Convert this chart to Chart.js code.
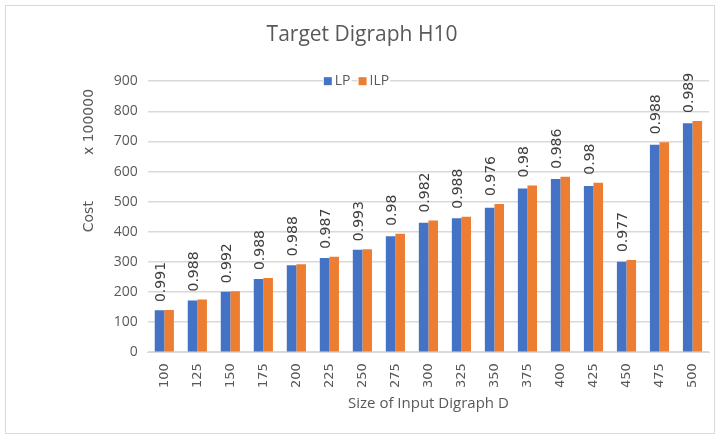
<!DOCTYPE html>
<html>
<head>
<meta charset="utf-8">
<script src="https://cdn.jsdelivr.net/npm/chart.js@4/dist/chart.umd.min.js"></script>
<style>
  body { margin: 0; background: #fff; }
  #wrap { position: relative; width: 721px; height: 441px; }
  #frame { position: absolute; left: 5px; top: 5px; width: 710px; height: 429px; border: 1px solid #d9d9d9; box-sizing: border-box; }
  canvas { position: absolute; left: 0; top: 0; }
</style>
</head>
<body>
<div id="wrap">
  <div id="frame"></div>
  <canvas id="myChart" width="721" height="441"></canvas>
</div>
<script>
// Data
const sizes = ['100', '125', '150', '175', '200', '225', '250', '275', '300',
               '325', '350', '375', '400', '425', '450', '475', '500'];
const lpCost = [139, 172, 201, 243, 289, 313, 340, 385, 430, 445, 480, 544, 575, 552, 300, 689, 760];
const ilpCost = [140, 175, 202, 246, 292, 317, 342, 393, 437, 450, 492, 554, 583, 563, 306, 697, 768];
const ratios = ['0.991', '0.988', '0.992', '0.988', '0.988', '0.987', '0.993', '0.98', '0.982',
                '0.988', '0.976', '0.98', '0.986', '0.98', '0.977', '0.988', '0.989'];
const yTicks = [0, 100, 200, 300, 400, 500, 600, 700, 800, 900];

// Rotated ratio labels, the "x 100000" unit label and a legend sitting on the top gridline
const extras = {
  id: 'extras',
  afterDatasetsDraw(chart) {
    const ctx = chart.ctx;
    const m0 = chart.getDatasetMeta(0).data;
    const m1 = chart.getDatasetMeta(1).data;
    ctx.save();
    ctx.font = '14px "DejaVu Sans"';
    ctx.fillStyle = '#404040';
    ctx.textAlign = 'left';
    ctx.textBaseline = 'middle';
    ratios.forEach((r, i) => {
      const x = (m0[i].x + m1[i].x) / 2 - 3;
      const y = Math.min(m0[i].y, m1[i].y) - 8;
      ctx.save();
      ctx.translate(x, y);
      ctx.rotate(-Math.PI / 2);
      ctx.fillText(r, 0, 0);
      ctx.restore();
    });

    // display unit label
    ctx.fillStyle = '#595959';
    ctx.textAlign = 'center';
    ctx.save();
    ctx.translate(89, 122);
    ctx.rotate(-Math.PI / 2);
    ctx.fillText('x 100000', 0, 0);
    ctx.restore();

    // legend
    ctx.font = '14px "Open Sans"';
    ctx.textAlign = 'left';
    const items = chart.data.datasets.map(d => ({ text: d.label, color: d.backgroundColor }));
    const box = 8, gap = 3, sep = 8;
    let total = 0;
    items.forEach((it, i) => {
      total += box + gap + ctx.measureText(it.text).width + (i ? sep : 0);
    });
    const ly = chart.chartArea.top;
    let lx = chart.width / 2 - total / 2 - 4;
    items.forEach(it => {
      ctx.fillStyle = '#ffffff';
      ctx.fillRect(lx - 1, ly - 4, box + gap + ctx.measureText(it.text).width + 2, 8);
      ctx.fillStyle = it.color;
      ctx.fillRect(lx, ly - box / 2, box, box);
      ctx.fillStyle = '#595959';
      ctx.fillText(it.text, lx + box + gap, ly);
      lx += box + gap + ctx.measureText(it.text).width + sep;
    });
    ctx.restore();
  }
};

const ctx = document.getElementById('myChart');

new Chart(ctx, {
  type: 'bar',
  data: {
    labels: sizes,
    datasets: [{
      label: 'LP',
      data: lpCost,
      backgroundColor: '#4472C4',
      categoryPercentage: 0.58,
      barPercentage: 1.0
    }, {
      label: 'ILP',
      data: ilpCost,
      backgroundColor: '#ED7D31',
      categoryPercentage: 0.58,
      barPercentage: 1.0
    }]
  },
  options: {
    responsive: false,
    animation: false,
    layout: { padding: { left: 15, right: 12, top: 10, bottom: 24 } },
    plugins: {
      title: {
        display: true,
        text: 'Target Digraph H10',
        color: '#595959',
        font: { family: 'Open Sans', size: 21, weight: 'normal' },
        padding: { top: 12, bottom: 34 }
      },
      legend: { display: false },
      tooltip: { enabled: false }
    },
    scales: {
      x: {
        grid: { display: false },
        border: { color: '#d9d9d9' },
        ticks: {
          minRotation: 90,
          maxRotation: 90,
          color: '#595959',
          font: { family: 'DejaVu Sans', size: 13 }
        },
        title: {
          display: true,
          text: 'Size of Input Digraph D',
          color: '#595959',
          font: { family: 'Open Sans', size: 15 },
          padding: { top: 4 }
        }
      },
      y: {
        min: 0,
        max: 900,
        afterBuildTicks: axis => { axis.ticks = yTicks.map(v => ({ value: v })); },
        grid: { color: '#d9d9d9', lineWidth: 1.5, drawTicks: false },
        border: { display: false },
        ticks: {
          color: '#595959',
          padding: 10,
          font: { family: 'Open Sans', size: 14 }
        },
        title: {
          display: true,
          text: 'Cost',
          color: '#595959',
          font: { family: 'DejaVu Sans', size: 14 },
          padding: { top: 66, bottom: 6 }
        }
      }
    }
  },
  plugins: [extras]
});
</script>
</body>
</html>
